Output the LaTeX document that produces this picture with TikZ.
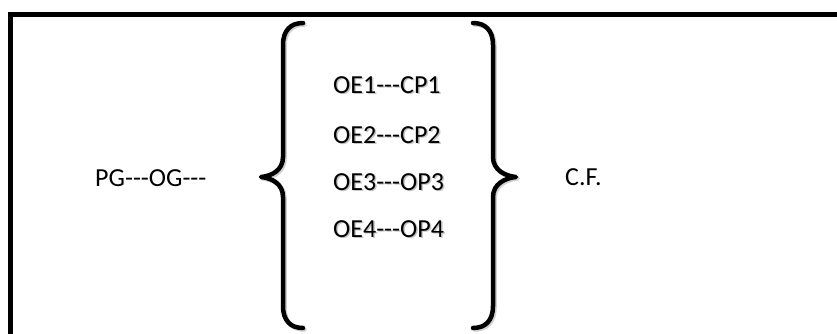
\documentclass[tikz,border=0pt]{standalone}
\usepackage{fontspec}
\setmainfont{Carlito}
\newcommand\tridash{-{}-{}-}
\begin{document}
\begin{tikzpicture}[x=1pt,y=-1pt,
  lbl/.style={inner sep=0pt,font=\fontsize{26}{31}\selectfont,anchor=west},
  shd/.style={lbl,text=black!45,opacity=0.5},
  brace/.style={line width=4.5pt,line cap=round,line join=round},
  braceshd/.style={brace,draw=black!40,opacity=0.45},
  frame/.style={line width=4.5pt}]
\useasboundingbox (0,0) rectangle (837,334);
\clip (0,0) rectangle (837,334);
\draw[frame] (10.5,360) -- (10.5,14.5) -- (860,14.5);
% text
\node[lbl] (pg) at (95,178) {PG\tridash OG\tridash};
\foreach \n/\t/\y in {a/OE1\tridash CP1/85, b/OE2\tridash CP2/135, c/OE3\tridash OP3/182, d/OE4\tridash OP4/229}{
  \node[shd] (s\n) at (334.5,\y+1.5) {\t};
  \node[lbl] (\n) at (333,\y) {\t};
}
\node[lbl] (cf) at (565,177) {C.F.};
% braces
\foreach \o/\s in {1.5/braceshd, 0/brace}{
\begin{scope}[shift={(\o,\o)}]
\draw[\s] (303,23) .. controls (291,23) and (283,30) .. (283,45) -- (283,157)
  .. controls (283,170) and (272,176) .. (261,177)
  .. controls (272,178) and (283,184) .. (283,197) -- (283,306)
  .. controls (283,321) and (291,328) .. (303,328);
\draw[\s] (473,23) .. controls (485,23) and (493,30) .. (493,45) -- (493,157)
  .. controls (493,170) and (505,176) .. (516,177)
  .. controls (505,178) and (493,184) .. (493,197) -- (493,306)
  .. controls (493,321) and (485,328) .. (473,328);
\end{scope}}
\end{tikzpicture}
\end{document}
